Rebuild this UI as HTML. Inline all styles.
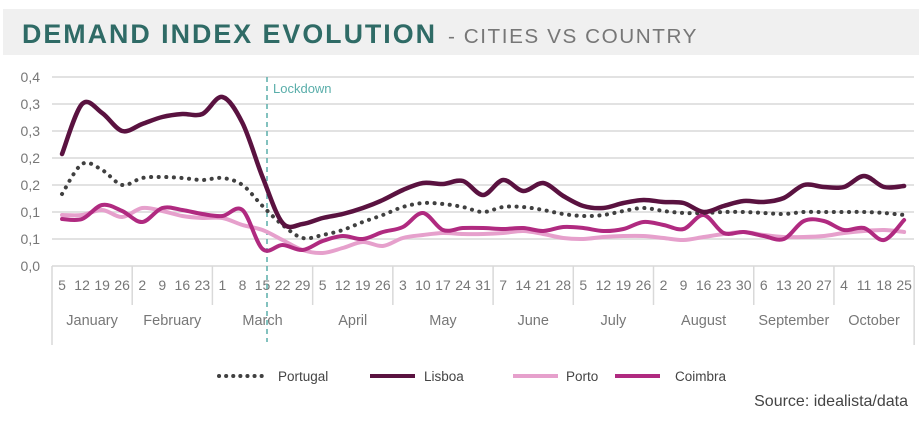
<!DOCTYPE html>
<html><head><meta charset="utf-8"><style>
html,body{margin:0;padding:0;background:#fff;width:919px;height:443px;overflow:hidden;font-family:"Liberation Sans",sans-serif;}
</style></head><body>
<svg id="s" width="919" height="443" xmlns="http://www.w3.org/2000/svg" font-family="Liberation Sans, sans-serif">
<rect x="3" y="9" width="916" height="46" fill="#f0f0f0"/>
<text x="22" y="43" font-size="27" font-weight="bold" fill="#2f6b66" letter-spacing="2" textLength="415" lengthAdjust="spacingAndGlyphs">DEMAND INDEX EVOLUTION</text>
<text x="448" y="43" font-size="20" fill="#777" letter-spacing="1.5" textLength="250" lengthAdjust="spacingAndGlyphs">- CITIES VS COUNTRY</text>
<g id="grid" stroke="#d9d9d9" stroke-width="1.5"></g>
<g id="ylab" font-size="14" fill="#777" text-anchor="end"></g>
<g id="xax" stroke="#d9d9d9" stroke-width="1.5"></g>
<g id="xlab" font-size="14" fill="#777" text-anchor="middle"></g>
<line x1="267" y1="77" x2="267" y2="342" stroke="#5aaeaa" stroke-width="1.5" stroke-dasharray="5,4"/>
<text x="273" y="93" font-size="13" fill="#5aaeaa">Lockdown</text>
<g id="series" fill="none" stroke-linecap="round" stroke-linejoin="round"></g>
<g font-size="13.5" fill="#444">
<line x1="219" y1="376" x2="262" y2="376" stroke="#404040" stroke-width="4" stroke-dasharray="0.1,7" stroke-linecap="round"/>
<text x="278" y="381">Portugal</text>
<line x1="370" y1="376" x2="415" y2="376" stroke="#5a1240" stroke-width="4"/>
<text x="424" y="381">Lisboa</text>
<line x1="513" y1="376" x2="558" y2="376" stroke="#e6a0cc" stroke-width="4"/>
<text x="566" y="381">Porto</text>
<line x1="615" y1="376" x2="660" y2="376" stroke="#b02a80" stroke-width="4"/>
<text x="675" y="381">Coimbra</text>
</g>
<text x="908" y="406" font-size="16" fill="#444" text-anchor="end">Source: idealista/data</text>
</svg>
<script>
var NS="http://www.w3.org/2000/svg";
function el(p,t,a,txt){var e=document.createElementNS(NS,t);for(var k in a)e.setAttribute(k,a[k]);if(txt!=null)e.textContent=txt;document.getElementById(p).appendChild(e);return e;}
var yl=["0,4","0,3","0,3","0,2","0,2","0,1","0,1","0,0"];
for(var i=0;i<8;i++){var y=77+27*i;el("grid","line",{x1:52,x2:914,y1:y,y2:y});el("ylab","text",{x:40,y:y+5},yl[i]);}
var W=20.05,X0=52;
var wk=["5","12","19","26","2","9","16","23","1","8","15","22","29","5","12","19","26","3","10","17","24","31","7","14","21","28","5","12","19","26","2","9","16","23","30","6","13","20","27","4","11","18","25"];
for(var i=0;i<43;i++)el("xlab","text",{x:X0+W*(i+0.5),y:290},wk[i]);
var b=[0,4,8,13,17,22,26,30,35,39,43],mn=["January","February","March","April","May","June","July","August","September","October"];
for(var j=0;j<b.length;j++){var x=X0+W*b[j];var end=(j==0||j==b.length-1)?345:305;el("xax","line",{x1:x,x2:x,y1:266,y2:end});
if(j<mn.length)el("xlab","text",{x:X0+W*(b[j]+b[j+1])/2,y:325,"font-size":"14.5"},mn[j]);}
function path(v){var p=v.map(function(y,i){return [X0+W*(i+0.5),y];});var d="M"+p[0][0]+","+p[0][1];
for(var i=0;i<p.length-1;i++){var a=p[i-1]||p[i],c=p[i],n=p[i+1],m=p[i+2]||n;
d+=" C"+(c[0]+(n[0]-a[0])/6)+","+(c[1]+(n[1]-a[1])/6)+" "+(n[0]-(m[0]-c[0])/6)+","+(n[1]-(m[1]-c[1])/6)+" "+n[0]+","+n[1];}return d;}
var porto=[215,215,210,217,208,211,216,218,218,225,230,240,250,253,248,242,246,238,235,233,234,234,233,231,234,238,239,237,236,236,238,240,237,234,232,235,237,237,236,233,231,230,232];
var coim=[219,219,205,211,222,208,210,214,216,210,249,245,250,241,236,239,232,227,213,230,228,228,229,228,231,227,228,231,229,222,225,229,215,233,232,236,239,221,221,230,228,240,220];
var port=[194,164,170,185,178,177,178,180,178,185,206,225,238,235,230,222,215,207,203,204,207,212,207,207,210,214,216,215,211,208,211,213,213,212,212,213,214,212,212,212,212,213,215];
var lis=[154,104,113,131,124,117,114,114,97,123,177,223,224,218,214,208,200,190,183,184,181,195,180,191,183,196,206,208,203,200,202,203,212,206,201,202,198,185,187,187,176,187,186];
el("series","path",{d:path(porto),stroke:"#e6a0cc","stroke-width":4});
el("series","path",{d:path(coim),stroke:"#b02a80","stroke-width":4});
el("series","path",{d:path(port),stroke:"#404040","stroke-width":4,"stroke-dasharray":"0.1,7.5"});
el("series","path",{d:path(lis),stroke:"#5a1240","stroke-width":4.5});
</script>
</body></html>
